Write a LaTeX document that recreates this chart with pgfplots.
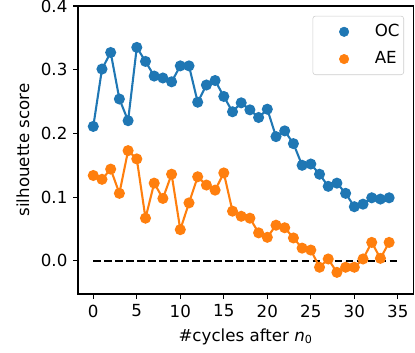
\documentclass[border=0pt]{standalone}
\usepackage{fontspec}
\setmainfont{DejaVu Sans}
\usepackage{pgfplots}
\pgfplotsset{compat=1.18}
\definecolor{Czero}{HTML}{1F77B4}
\definecolor{Cone}{HTML}{FF7F0E}
\begin{document}
\fontsize{12pt}{14pt}\selectfont
\begin{tikzpicture}
\path[use as bounding box] (-56.2pt,-41.8pt) rectangle (242.6pt,211.7pt);
\begin{axis}[
  scale only axis,
  width=241.2pt, height=207.4pt,
  at={(0,0)}, anchor=south west,
  xmin=-1.75, xmax=36.75,
  ymin=-0.052, ymax=0.4,
  xtick={0,5,...,35},
  ytick={0,0.1,0.2,0.3,0.4},
  yticklabel style={/pgf/number format/.cd,fixed,fixed zerofill,precision=1},
  /pgf/number format/assume math mode=true,
  tick align=outside,
  tick pos=left,
  major tick length=3.5pt,
  every tick/.style={black, line width=0.8pt},
  axis line style={line width=0.8pt},
  ticklabel style={font=\fontsize{12pt}{14pt}\selectfont},
  xlabel={\#cycles after \textit{n}\textsubscript{0}},
  ylabel={silhouette score},
  label style={font=\fontsize{12pt}{14pt}\selectfont},
  legend style={draw=black!20, rounded corners=2pt, font=\fontsize{12pt}{14pt}\selectfont,
    at={(0.973,0.966)}, anchor=north east, inner xsep=1pt, inner ysep=4pt, row sep=5pt},
  legend cell align=left,
  legend image code/.code={\path (0cm,0cm) (1.45cm,0cm); \draw[mark size=3.4pt,#1] plot coordinates {(0.75cm,0cm)};},
]
\addplot[black, dashed, line width=1.5pt, dash pattern=on 5.5pt off 2.4pt, forget plot] coordinates {(0,0) (35,0)};
\addplot[Czero, line width=1.5pt, mark=*, mark size=3.2pt, forget plot] coordinates {
(0,0.211) (1,0.301) (2,0.327) (3,0.254) (4,0.220) (5,0.335) (6,0.313) (7,0.290) (8,0.287) (9,0.281)
(10,0.306) (11,0.306) (12,0.249) (13,0.276) (14,0.283) (15,0.258) (16,0.234) (17,0.248) (18,0.237) (19,0.225)
(20,0.238) (21,0.195) (22,0.204) (23,0.184) (24,0.150) (25,0.152) (26,0.136) (27,0.117) (28,0.122) (29,0.106)
(30,0.085) (31,0.089) (32,0.099) (33,0.097) (34,0.099)};
\addplot[Cone, line width=1.5pt, mark=*, mark size=3.2pt, forget plot] coordinates {
(0,0.134) (1,0.128) (2,0.144) (3,0.106) (4,0.173) (5,0.160) (6,0.067) (7,0.122) (8,0.098) (9,0.136)
(10,0.049) (11,0.091) (12,0.132) (13,0.119) (14,0.111) (15,0.138) (16,0.078) (17,0.070) (18,0.067) (19,0.044)
(20,0.037) (21,0.056) (22,0.052) (23,0.036) (24,0.020) (25,0.017) (26,-0.010) (27,0.003) (28,-0.018) (29,-0.010)
(30,-0.010) (31,0.003) (32,0.029) (33,0.004) (34,0.029)};
\addlegendimage{only marks, mark=*, Czero}
\addlegendentry{OC}
\addlegendimage{only marks, mark=*, Cone}
\addlegendentry{AE}
\end{axis}
\end{tikzpicture}
\end{document}
